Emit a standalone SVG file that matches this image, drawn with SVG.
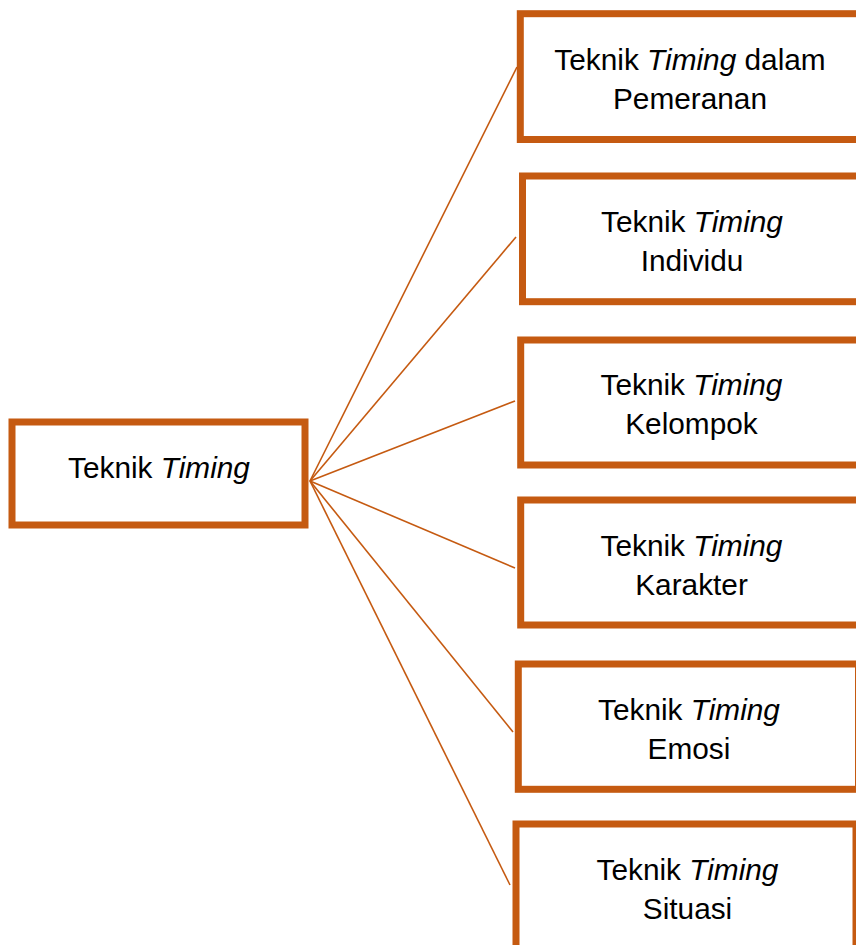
<svg xmlns="http://www.w3.org/2000/svg" width="856" height="945" viewBox="0 0 856 945">
<style>
.box{fill:#fff;stroke:#C55A11;stroke-width:7}
.ln{stroke:#C55A11;stroke-width:1.6;fill:none}
text{font-family:"Liberation Sans",Arial,sans-serif;font-size:29.8px;fill:#000;text-anchor:middle}
.it{font-style:italic}
</style>
<rect width="856" height="945" fill="#fff"/>
<g id="connectors">
<line class="ln" x1="310" y1="481" x2="517" y2="67"/>
<line class="ln" x1="310" y1="481" x2="516" y2="237"/>
<line class="ln" x1="310" y1="481" x2="515" y2="401"/>
<line class="ln" x1="310" y1="481" x2="515" y2="568"/>
<line class="ln" x1="310" y1="481" x2="513" y2="732"/>
<line class="ln" x1="310" y1="481" x2="510" y2="885"/>
</g>
<g id="root">
<rect class="box" x="12" y="422" width="293" height="103"/>
<text x="159" y="478">Teknik <tspan class="it">Timing</tspan></text>
</g>
<g id="n1">
<rect class="box" x="520.3" y="13.7" width="345" height="125.8"/>
<text x="690" y="70">Teknik <tspan class="it">Timing</tspan> dalam</text>
<text x="690" y="109">Pemeranan</text>
</g>
<g id="n2">
<rect class="box" x="522.5" y="176" width="345" height="125.7"/>
<text x="692" y="231.7">Teknik <tspan class="it">Timing</tspan></text>
<text x="692" y="270.7">Individu</text>
</g>
<g id="n3">
<rect class="box" x="520.7" y="340" width="345" height="125"/>
<text x="691.5" y="395">Teknik <tspan class="it">Timing</tspan></text>
<text x="691.5" y="434">Kelompok</text>
</g>
<g id="n4">
<rect class="box" x="520.7" y="500" width="345" height="125"/>
<text x="691.5" y="556">Teknik <tspan class="it">Timing</tspan></text>
<text x="691.5" y="595">Karakter</text>
</g>
<g id="n5">
<rect class="box" x="518.3" y="664" width="340.2" height="125.3"/>
<text x="689" y="720">Teknik <tspan class="it">Timing</tspan></text>
<text x="689" y="759">Emosi</text>
</g>
<g id="n6">
<rect class="box" x="516" y="824" width="340" height="160"/>
<text x="687.5" y="880">Teknik <tspan class="it">Timing</tspan></text>
<text x="687.5" y="919">Situasi</text>
</g>
</svg>
